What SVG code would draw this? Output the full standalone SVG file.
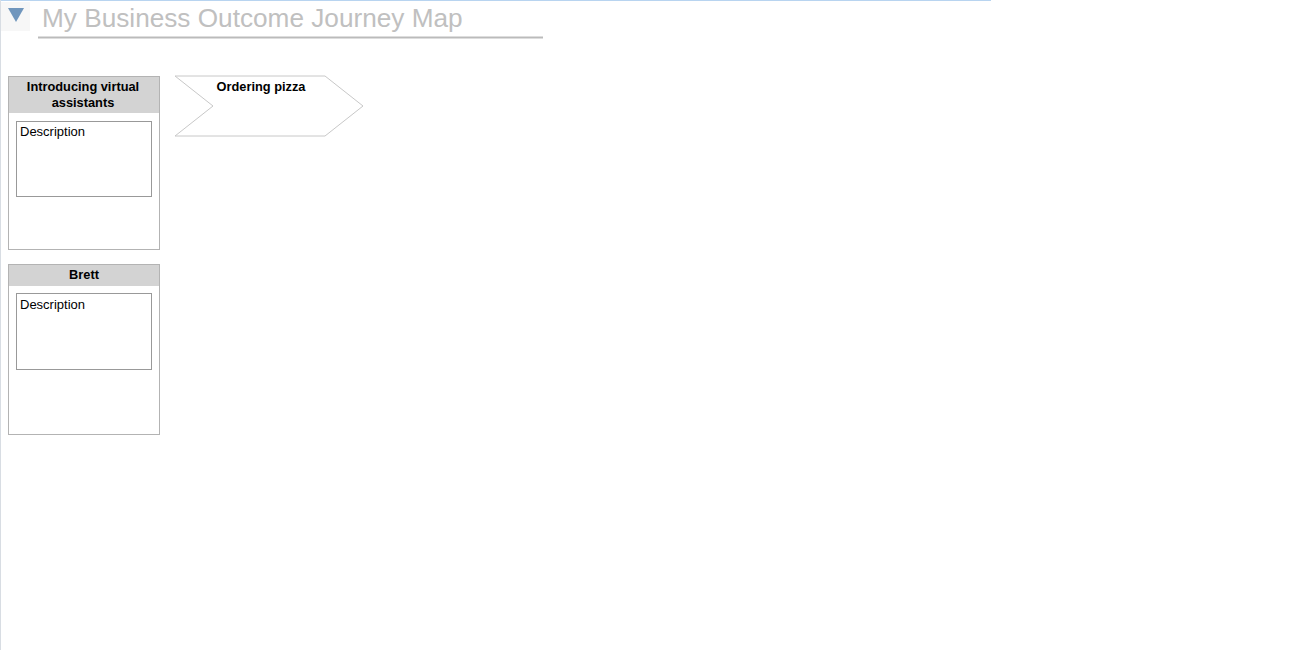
<svg xmlns="http://www.w3.org/2000/svg" width="1300" height="650" viewBox="0 0 1300 650">
<style>
.hdr{font-family:"Liberation Sans",Arial,sans-serif;font-size:12.8px;font-weight:bold;fill:#000;text-anchor:middle}
.desc{font-family:"Liberation Sans",Arial,sans-serif;font-size:13px;fill:#000}
.card{fill:#fff;stroke:#b3b3b3;stroke-width:1}
.head{fill:#d3d3d3;stroke:none}
.inner{fill:#fff;stroke:#999;stroke-width:1}
</style>
<rect x="0" y="0" width="1300" height="650" fill="#fff"/>
<line x1="0" y1="0.5" x2="991" y2="0.5" stroke="#b8d4f0" stroke-width="1"/>
<line x1="0.5" y1="0" x2="0.5" y2="650" stroke="#d8dde3" stroke-width="1"/>
<g id="title">
<rect x="1" y="2" width="29" height="29" fill="#f7f7f7"/>
<polygon points="8,8 24,8 16,22" fill="#7096bd"/>
<text x="42" y="27" font-family="'Liberation Sans',Arial,sans-serif" font-size="26.2" fill="#c0c0c0">My Business Outcome Journey Map</text>
<line x1="38" y1="37.5" x2="543" y2="37.5" stroke="#bbb" stroke-width="2"/>
</g>
<g id="node-virtual-assistants">
<rect class="card" x="8.5" y="76.5" width="151" height="173"/>
<rect class="head" x="9" y="77" width="150" height="36"/>
<text class="hdr" x="83" y="91">Introducing virtual</text>
<text class="hdr" x="83" y="107">assistants</text>
<rect class="inner" x="16.5" y="121.5" width="135" height="75"/>
<text class="desc" x="20" y="136">Description</text>
</g>
<g id="node-brett">
<rect class="card" x="8.5" y="264.5" width="151" height="170"/>
<rect class="head" x="9" y="265" width="150" height="21"/>
<text class="hdr" x="84" y="279">Brett</text>
<rect class="inner" x="16.5" y="293.5" width="135" height="76"/>
<text class="desc" x="20" y="309">Description</text>
</g>
<g id="node-ordering-pizza">
<polygon points="175,76 325,76 363,106 325,136 175,136 213,106" fill="#fff" stroke="#c8c8c8" stroke-width="1"/>
<text class="hdr" x="261" y="91">Ordering pizza</text>
</g>
<g id="connectors"></g>
</svg>
